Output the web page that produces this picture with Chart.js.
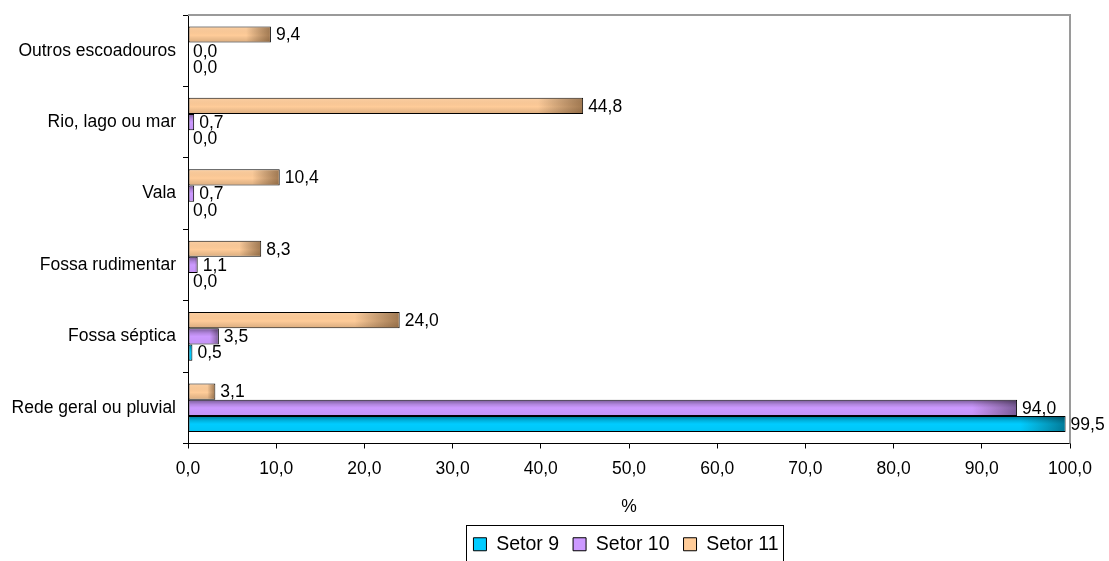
<!DOCTYPE html>
<html>
<head>
<meta charset="utf-8">
<script src="https://cdn.jsdelivr.net/npm/chart.js@4/dist/chart.umd.min.js"></script>
<style>
  html, body { margin: 0; padding: 0; background: #ffffff; }
  #wrap { width: 1109px; height: 561px; }
</style>
</head>
<body>
<div id="wrap"><canvas id="c" width="1109" height="561"></canvas></div>
<script>
// Destination of household sewage, share of households per sector (%)
const categories = [
  'Rede geral ou pluvial',
  'Fossa séptica',
  'Fossa rudimentar',
  'Vala',
  'Rio, lago ou mar',
  'Outros escoadouros'
];
const seriesNames = ['Setor 9', 'Setor 10', 'Setor 11'];
const setor9  = [99.5, 0.5, 0.0, 0.0, 0.0, 0.0];
const setor10 = [94.0, 3.5, 1.1, 0.7, 0.7, 0.0];
const setor11 = [3.1, 24.0, 8.3, 10.4, 44.8, 9.4];
const xMin = 0, xMax = 100, xStep = 10;
const axisTitle = '%';

const FONT = "'Liberation Sans', Arial, sans-serif";
const seriesColors = ['#00CCFF', '#CC99FF', '#FFCC99'];

const fmt = v => Number(v).toFixed(1).replace('.', ',');

// Legend centre (x) and vertical shift applied after layout
const LEGEND_CENTER_X = 626;
const LEGEND_SHIFT_Y = 3;

// Cylinder-like shading laid over each bar, using the bar geometry from Chart.js
const barShading = {
  id: 'barShading',
  afterDatasetsDraw(chart) {
    const ctx = chart.ctx;
    chart.data.datasets.forEach((ds, i) => {
      const meta = chart.getDatasetMeta(i);
      meta.data.forEach(el => {
        const p = el.getProps(['x', 'y', 'base', 'height'], true);
        const left = Math.min(p.x, p.base), right = Math.max(p.x, p.base);
        const top = p.y - p.height / 2, bottom = p.y + p.height / 2;
        const w = right - left, h = bottom - top;
        if (w < 3) return;
        ctx.save();
        ctx.beginPath();
        ctx.rect(left + 1, top + 1, w - 2, h - 2);
        ctx.clip();
        const vg = ctx.createLinearGradient(0, top, 0, bottom);
        if (ds.shade === 'top') {
          vg.addColorStop(0, 'rgba(0,0,0,0.42)');
          vg.addColorStop(0.3, 'rgba(0,0,0,0.12)');
          vg.addColorStop(0.5, 'rgba(0,0,0,0)');
          vg.addColorStop(1, 'rgba(0,0,0,0.04)');
        } else {
          vg.addColorStop(0, 'rgba(255,255,255,0.12)');
          vg.addColorStop(0.55, 'rgba(0,0,0,0)');
          vg.addColorStop(1, 'rgba(60,30,0,0.18)');
        }
        ctx.fillStyle = vg;
        ctx.fillRect(left, top, w, h);
        const span = Math.min(w * 0.3, 45);
        const hg = ctx.createLinearGradient(right - span, 0, right, 0);
        hg.addColorStop(0, 'rgba(40,20,0,0)');
        hg.addColorStop(1, ds.shade === 'bottom' ? 'rgba(70,40,10,0.5)' : 'rgba(0,0,0,0.4)');
        ctx.fillStyle = hg;
        ctx.fillRect(right - span, top, span, h);
        ctx.restore();
      });
    });
  }
};

// Value labels at the end of each bar
const valueLabels = {
  id: 'valueLabels',
  afterDatasetsDraw(chart) {
    const ctx = chart.ctx;
    ctx.save();
    ctx.font = '17.5px ' + FONT;
    ctx.fillStyle = '#000';
    ctx.textAlign = 'left';
    ctx.textBaseline = 'middle';
    chart.data.datasets.forEach((ds, i) => {
      const meta = chart.getDatasetMeta(i);
      meta.data.forEach((el, j) => {
        const p = el.getProps(['x', 'y', 'base'], true);
        const end = Math.max(p.x, p.base);
        ctx.fillText(fmt(ds.data[j]), end + 5, p.y + 1);
      });
    });
    ctx.restore();
  }
};

// Moves the legend under the centre of the plot area
const legendPlacement = {
  id: 'legendPlacement',
  afterUpdate(chart) {
    const lg = chart.legend;
    if (!lg || !lg.legendHitBoxes) return;
    const dx = LEGEND_CENTER_X - (lg.left + lg.right) / 2;
    lg.left += dx; lg.right += dx;
    lg.top += LEGEND_SHIFT_Y; lg.bottom += LEGEND_SHIFT_Y;
    lg.legendHitBoxes.forEach(hb => { hb.left += dx; hb.top += LEGEND_SHIFT_Y; });
  }
};

// Grey frame on the top and right of the plot area, and the box round the legend
const frame = {
  id: 'frame',
  afterDraw(chart) {
    const ctx = chart.ctx;
    const a = chart.chartArea;
    ctx.save();
    ctx.strokeStyle = '#9a9a9a';
    ctx.lineWidth = 2;
    ctx.beginPath();
    ctx.moveTo(a.left, a.top);
    ctx.lineTo(a.right, a.top);
    ctx.lineTo(a.right, a.bottom);
    ctx.stroke();

    const hb = chart.legend.legendHitBoxes;
    if (hb && hb.length) {
      const first = hb[0], last = hb[hb.length - 1];
      const l = Math.round(first.left - 7) + 0.5;
      const r = Math.round(last.left + last.width + 4) + 0.5;
      const t = Math.round(first.top - 10) + 0.5;
      ctx.strokeStyle = '#000';
      ctx.lineWidth = 1;
      ctx.strokeRect(l, t, r - l, chart.height - t + 10);
    }
    ctx.restore();
  }
};

// Setor 11 is listed first so that it sits at the top of each group
const datasets = [
  { label: seriesNames[2], data: setor11, backgroundColor: seriesColors[2], shade: 'bottom' },
  { label: seriesNames[1], data: setor10, backgroundColor: seriesColors[1], shade: 'top' },
  { label: seriesNames[0], data: setor9,  backgroundColor: seriesColors[0], shade: 'top' }
].map(ds => Object.assign(ds, {
  borderColor: '#000000',
  borderWidth: ctx => (ctx.raw === 0 ? 0 : 1),
  borderSkipped: false,
  categoryPercentage: 0.68,
  barPercentage: 1.0
}));

new Chart(document.getElementById('c'), {
  type: 'bar',
  data: { labels: categories, datasets },
  plugins: [legendPlacement, barShading, valueLabels, frame],
  options: {
    indexAxis: 'y',
    responsive: false,
    animation: false,
    devicePixelRatio: 1,
    layout: { padding: { left: 9, right: 39, top: 15, bottom: 0 } },
    scales: {
      x: {
        type: 'linear',
        min: xMin,
        max: xMax,
        ticks: {
          stepSize: xStep,
          color: '#000',
          font: { family: FONT, size: 17.5 },
          padding: 10,
          callback: v => fmt(v)
        },
        grid: { drawOnChartArea: false, drawTicks: true, tickLength: 5, color: '#000' },
        border: { display: true, color: '#000', width: 1 },
        title: {
          display: true,
          text: axisTitle,
          color: '#000',
          font: { family: FONT, size: 17.5 },
          padding: { top: 7, bottom: 0 }
        }
      },
      y: {
        type: 'category',
        reverse: true,
        offset: true,
        ticks: {
          color: '#000',
          font: { family: FONT, size: 17.5 },
          padding: 7
        },
        grid: { offset: true, drawOnChartArea: false, drawTicks: true, tickLength: 5, color: '#000' },
        border: { display: true, color: '#000', width: 1 },
        afterFit: s => { s.width = 179; s.paddingTop = 0; s.paddingBottom = 0; }
      }
    },
    plugins: {
      tooltip: { enabled: false },
      legend: {
        display: true,
        position: 'bottom',
        labels: {
          color: '#000',
          font: { family: FONT, size: 19.5 },
          boxWidth: 13,
          boxHeight: 13,
          padding: 14,
          generateLabels: chart => chart.data.datasets.map((ds, i) => ({
            text: ds.label,
            fillStyle: ds.backgroundColor,
            strokeStyle: '#000',
            lineWidth: 1,
            datasetIndex: i,
            hidden: false
          })).reverse()
        }
      }
    }
  }
});
</script>
</body>
</html>
